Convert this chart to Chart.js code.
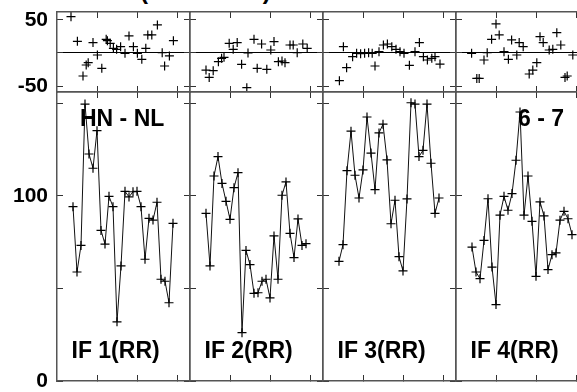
<!DOCTYPE html>
<html>
<head>
<meta charset="utf-8">
<script src="https://cdn.jsdelivr.net/npm/chart.js@4.4.1/dist/chart.umd.min.js"></script>
<style>
  html, body { margin: 0; padding: 0; background: #fff; overflow: hidden; width: 577px; height: 392px; }
  body { position: relative; font-family: "Liberation Sans", Arial, sans-serif; }
  canvas { position: absolute; }
  .lbl { position: absolute; font-weight: bold; font-size: 23px; line-height: 23px; white-space: nowrap; color: #000; }
</style>
</head>
<body>
<div class="lbl" style="left:0;top:-21px;font-size:24px;line-height:24px">s and B. # 1 (B. mode 1)</div>
<script>
// x ticks are shared by every panel
var xTicks = [10, 20, 30];

// top row: phase residuals (deg)
var phaseTicks = [-50, 0, 50];
var phaseLabels = [-50, 50];

// bottom row: amplitudes
var ampTicks = [0, 50, 100, 150];
var ampLabels = [0, 100];

var ifLabels = ['IF 1(RR)', 'IF 2(RR)', 'IF 3(RR)', 'IF 4(RR)'];
var baseline = 'HN - NL';
var scanLabel = '6 - 7';

var ampX = [4, 5, 6, 7, 8, 9, 10, 11, 12, 13, 14, 15, 16, 17, 18, 19, 20, 21, 22, 23, 24, 25, 26, 27, 28, 29];
var amp1 = [94.2, 58.9, 73.3, 149.7, 122.7, 115, 135.3, 81.4, 74, 99.8, 94.2, 32, 62.2, 102.5, 99.5, 102.3, 102.5, 94.2, 65.8, 87.9, 87, 96.6, 55, 53.9, 42.3, 85.2];
var amp2 = [90.6, 62.2, 110.8, 121.3, 106.8, 97.1, 87.4, 104.5, 112.6, 26.1, 70.6, 62.9, 47.4, 47.7, 53.9, 55, 44.9, 78.4, 55, 100.4, 107.6, 79.8, 66.7, 87.6, 73.3, 74.2];
var amp3 = [64.7, 73.7, 113.7, 135, 111.2, 98.9, 114.1, 142.7, 123.2, 103.4, 134.1, 138.8, 119.5, 85, 97.7, 67.2, 59.5, 98.4, 150.4, 149.7, 121.3, 124.7, 149.7, 117.7, 90.6, 98.9];
var amp4 = [72.4, 58.9, 55.3, 76, 98.5, 61.6, 41.3, 89.6, 99.8, 92.3, 101.3, 119.3, 145.4, 89.6, 110.8, 86.3, 56.6, 96.8, 89.2, 60.2, 68.3, 69.2, 86.9, 91.7, 87.7, 79.1];

var ph1X = [3.5, 5.1, 6.5, 7.3, 7.8, 9, 10.1, 11.2, 12.3, 12.6, 13.3, 14.1, 14.9, 15.9, 17, 18, 19.1, 20.1, 21.2, 22.2, 22.7, 23.7, 25.1, 26.3, 26.9, 28.1, 29.1];
var ph1 = [55, 17.7, -34.8, -18.2, -14.6, 15.7, -3, -23.2, 20.7, 18.7, 14.6, 7.1, 5.6, 9.6, -0.5, 25.8, 9.6, -0.5, -9.6, 7, 27.3, 27.3, 42.4, 0.5, -19.7, -4.5, 18.7];
var ph2X = [4, 4.8, 5.8, 7.1, 7.9, 8.5, 9.8, 10.8, 11.8, 12.9, 14.2, 14.5, 16, 16.8, 17.9, 19.2, 20.2, 21, 22.1, 23, 23.75, 25, 25.8, 26.8, 28.2, 29.3];
var ph2 = [-25.8, -36.9, -26.8, -13.1, -8.1, -6.6, 14.6, 5.6, 15.7, -17.2, -52.5, 0, 20.7, -23.2, 13.6, -24.7, 4.5, 17.2, -13.1, -12.1, -14.6, 12.1, 12.1, 0.5, 13.6, 7.1];
var ph3X = [4.1, 5.1, 5.9, 7.4, 8.4, 9.4, 10.4, 11.4, 12.3, 13, 14, 15.1, 16.1, 17.2, 18.25, 19.25, 20.25, 21.6, 23, 24.1, 25.1, 26.1, 27.2, 28, 29.25];
var ph3 = [-41.9, 9.6, -22.2, -5.6, -0.5, -1, -0.5, 0.5, -0.5, -19.7, 2, 12.1, 13.6, 9.6, 5.6, 2, -0.5, -18.7, 2, 15.7, -5.6, -10.6, -8.1, -5.6, -16.7];
var ph4X = [3.9, 5.2, 5.8, 7, 7.8, 8.9, 10, 10.8, 12, 13.1, 13.9, 15.2, 15.8, 16.8, 18.3, 19.2, 20.2, 21, 21.8, 23.3, 24.2, 25.2, 26.2, 27.25, 27.8, 29.2];
var ph4 = [-0.5, -38.4, -38.4, -10.6, 0.5, 20.7, 43.9, 27.3, 2, -9.6, 19.7, -3, 15.7, 9.6, -31.8, -25.8, -14.6, 24.7, 15.7, 4.5, 5.6, 30.8, 12.1, -36.9, -34.8, -3];

var phX = [ph1X, ph2X, ph3X, ph4X];
var phY = [ph1, ph2, ph3, ph4];
var ampY = [amp1, amp2, amp3, amp4];

// panel frames in page pixels
var colLeft = [57, 190, 323, 456];
var colW = 133;
var rowTop = [12, 92];
var rowH = [80, 289];

function axis(pos, o) {
    var horiz = pos === 'top' || pos === 'bottom';
    return {
        type: 'linear',
        position: pos,
        min: o.min,
        max: o.max,
        afterBuildTicks: function(s) { s.ticks = o.ticks.map(function(v) { return { value: v }; }); },
        afterFit: function(s) {
            if (horiz) s.height = o.size; else s.width = o.size;
            s.paddingLeft = s.paddingRight = s.paddingTop = s.paddingBottom = 0;
        },
        ticks: {
            display: !!o.labels,
            autoSkip: false,
            padding: 15,
            color: '#000',
            font: { family: '"Liberation Sans", Arial, sans-serif', size: 21, weight: 'bold' },
            callback: function(v) { return o.labels && o.labels.indexOf(v) >= 0 ? String(v) : ''; }
        },
        grid: {
            drawOnChartArea: !!o.zero,
            color: function(c) { return (o.zero && c.tick && c.tick.value === 0) ? '#000' : 'rgba(0,0,0,0)'; },
            tickColor: '#333',
            tickLength: -6,
            lineWidth: 1
        },
        border: { display: true, color: '#555', width: 1.5 }
    };
}

function makePanel(col, row) {
    var top = row === 0;
    var L = colLeft[col], T = rowTop[row], W = colW, H = rowH[row];
    var padL = col === 0 ? 57 : 4, padR = 4, padT = 4, padB = top ? 4 : 12;
    var cv = document.createElement('canvas');
    cv.width = W + padL + padR;
    cv.height = H + padT + padB;
    cv.style.width = cv.width + 'px';
    cv.style.height = cv.height + 'px';
    cv.style.left = (L - padL) + 'px';
    cv.style.top = (T - padT) + 'px';
    document.body.appendChild(cv);

    var xs = top ? phX[col] : ampX;
    var ys = top ? phY[col] : ampY[col];
    var pts = xs.map(function(x, i) { return { x: x, y: ys[i] }; });

    var yMin = top ? -59 : 0, yMax = top ? 62 : 156.2;
    var yTicks = top ? phaseTicks : ampTicks;
    var yLabels = col === 0 ? (top ? phaseLabels : ampLabels) : null;

    new Chart(cv.getContext('2d'), {
        type: 'scatter',
        data: {
            datasets: [{
                data: pts,
                xAxisID: 'x',
                yAxisID: 'y',
                showLine: !top,
                borderColor: '#111',
                borderWidth: 1,
                pointStyle: 'cross',
                pointRadius: 4.5,
                pointBorderColor: '#000',
                pointBorderWidth: 1.2,
                pointBackgroundColor: '#000'
            }]
        },
        options: {
            responsive: false,
            animation: false,
            layout: { padding: 0, autoPadding: false },
            plugins: { legend: { display: false }, tooltip: { enabled: false } },
            scales: {
                x: axis('bottom', { min: 0, max: W / 4, ticks: xTicks, size: padB }),
                x2: axis('top', { min: 0, max: W / 4, ticks: xTicks, size: padT }),
                y: axis('left', { min: yMin, max: yMax, ticks: yTicks, size: padL, labels: yLabels, zero: top }),
                y2: axis('right', { min: yMin, max: yMax, ticks: yTicks, size: padR })
            }
        }
    });
}

function addText(txt, left, top) {
    var d = document.createElement('div');
    d.className = 'lbl';
    d.textContent = txt;
    d.style.left = left + 'px';
    d.style.top = top + 'px';
    document.body.appendChild(d);
}

document.addEventListener('DOMContentLoaded', function() {
    for (var r = 0; r < 2; r++) {
        for (var c = 0; c < 4; c++) makePanel(c, r);
    }
    addText(baseline, 80, 106.5);
    addText(scanLabel, 518, 106.5);
    ifLabels.forEach(function(t, i) {
        addText(t, colLeft[i] + 14.5, 338.5);
    });
});
</script>
</body>
</html>
